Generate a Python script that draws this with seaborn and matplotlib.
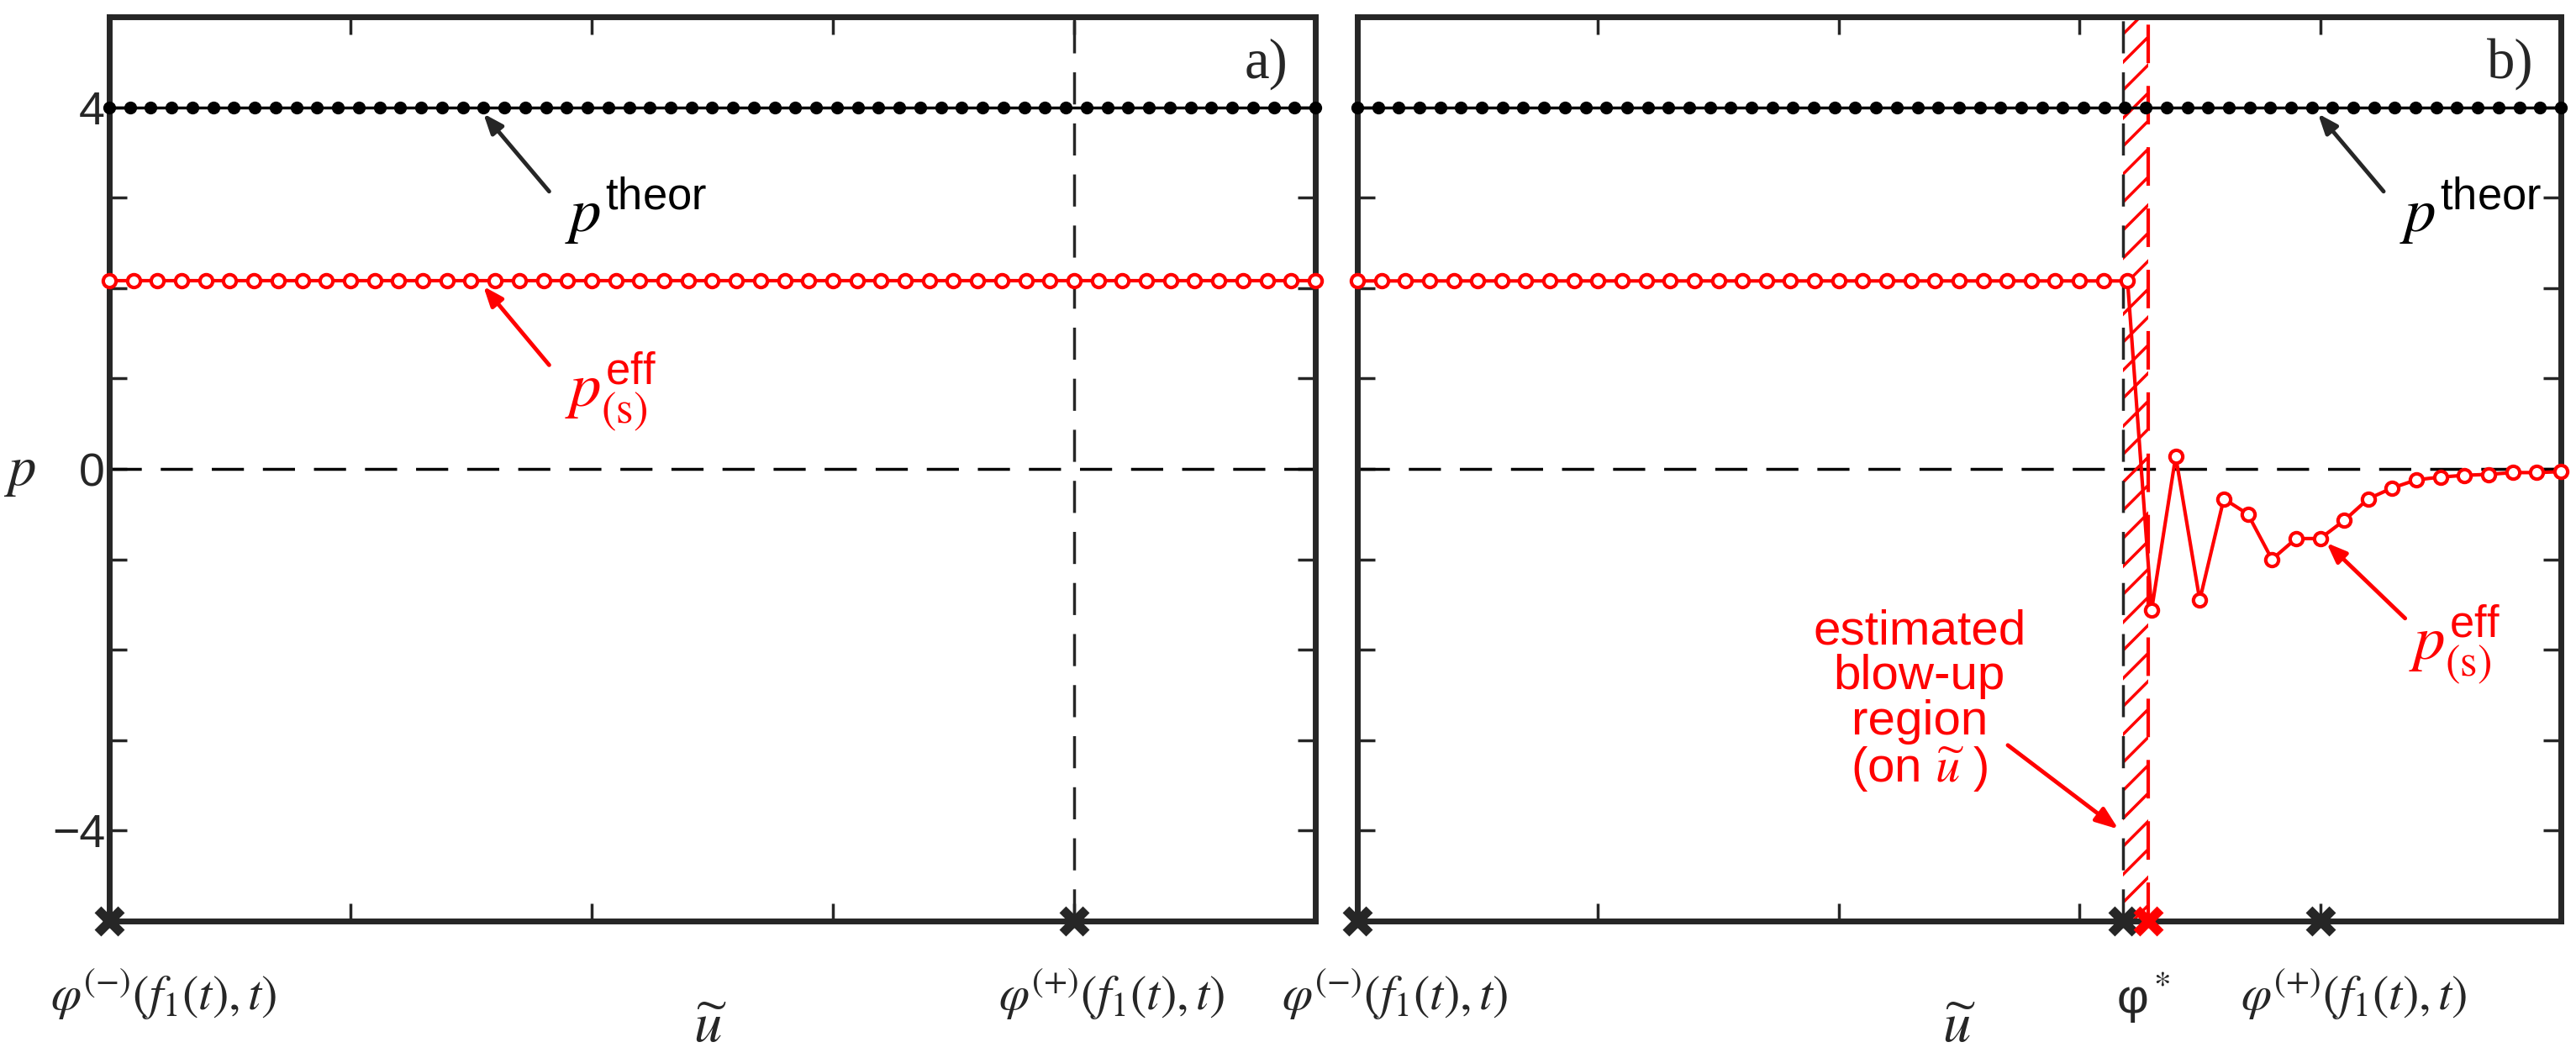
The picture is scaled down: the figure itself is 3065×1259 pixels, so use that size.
import numpy as np
import pandas as pd
import matplotlib
matplotlib.use("Agg")
import matplotlib.pyplot as plt
import seaborn as sns

# ---------------- data ----------------
n_theor = 59                      # points on p^theor curve
p_theor_value = 4.0
n_eff = 51                        # points on p_eff curve
p_eff_flat = 2.08
# panel b: values after the blow-up (indices 33..50)
p_eff_b_tail = [-1.56, 0.14, -1.45, -0.33, -0.50, -1.00, -0.77, -0.77, -0.57,
                -0.33, -0.21, -0.12, -0.09, -0.07, -0.06, -0.04, -0.04, -0.03]
phi_minus = 0.0
phi_plus_a = 0.80
phi_plus_b = 0.80
phi_star_black = 0.636
phi_star_red = 0.657
ytick_vals = [-4, -3, -2, -1, 0, 1, 2, 3, 4]
ytick_labels = ["\u22124", "", "", "", "0", "", "", "", "4"]
xtick_vals = [0.2, 0.4, 0.6, 0.8]

u_theor = np.linspace(0, 1, n_theor)
u_eff = np.linspace(0, 1, n_eff)
df_theor = pd.DataFrame({"u": u_theor, "p": np.full(n_theor, p_theor_value)})
df_eff_a = pd.DataFrame({"u": u_eff, "p": np.full(n_eff, p_eff_flat)})
p_b = [p_eff_flat] * (n_eff - len(p_eff_b_tail)) + p_eff_b_tail
df_eff_b = pd.DataFrame({"u": u_eff, "p": p_b})

# ---------------- style ----------------
sns.set_style("ticks")
plt.rcParams["font.family"] = ["Liberation Sans", "DejaVu Sans"]
plt.rcParams["mathtext.fontset"] = "custom"
plt.rcParams["mathtext.rm"] = "STIXGeneral"
plt.rcParams["mathtext.it"] = "STIXGeneral:italic"
plt.rcParams["mathtext.sf"] = "Liberation Sans"
plt.rcParams["mathtext.bf"] = "STIXGeneral:bold"
plt.rcParams["mathtext.fallback"] = "stix"
plt.rcParams["hatch.linewidth"] = 2.5

fig = plt.figure(figsize=(30.65, 12.59), dpi=100)
axA = fig.add_axes([0.0424, 0.1295, 0.4682, 0.8545])
axB = fig.add_axes([0.5269, 0.1295, 0.4672, 0.8545])

RED = "#ff0000"
DASH = (11, 6.5)
FS_TICK = 40
FS_LAB = 42


def base(ax):
    ax.set_xlim(0, 1)
    ax.set_ylim(-5, 5)
    for s in ax.spines.values():
        s.set_linewidth(5)
        s.set_color("#262626")
        s.set_visible(True)
    ax.tick_params(direction="in", length=15, width=2.5, top=True, right=True,
                   labelsize=FS_TICK, colors="#262626")
    ax.set_xticks(xtick_vals)
    ax.set_xticklabels([])
    ax.set_yticks(ytick_vals)
    ax.axhline(0, color="black", lw=2.5, dashes=DASH, zorder=1)
    sns.lineplot(data=df_theor, x="u", y="p", ax=ax, color="black", lw=2.5,
                 marker="o", markersize=11, markeredgewidth=0, clip_on=False, zorder=4)
    ax.set_xlabel("")
    ax.set_ylabel("")


ARROW = "-|>,head_length=1.4,head_width=0.55"

# ---- panel a ----
base(axA)
axA.set_yticklabels(ytick_labels)
axA.axvline(phi_plus_a, color="#262626", lw=2.5, dashes=DASH, zorder=1)
sns.lineplot(data=df_eff_a, x="u", y="p", ax=axA, color=RED, lw=3,
             marker="o", markersize=11, markerfacecolor="white",
             markeredgecolor=RED, markeredgewidth=3, clip_on=False, zorder=5)
axA.set_xlabel(""); axA.set_ylabel("")
for xm in [phi_minus, phi_plus_a]:
    axA.plot([xm], [-5], marker="x", color="#262626", ms=20, mew=8, clip_on=False, zorder=10)

axA.annotate("", xy=(0.309, 3.95), xytext=(0.366, 3.05),
             arrowprops=dict(arrowstyle=ARROW, color="#262626", lw=3.5))
axA.text(0.378, 2.85, r"$p^{\mathsf{theor}}$", fontsize=54, color="black", ha="left", va="center")
axA.annotate("", xy=(0.309, 2.04), xytext=(0.366, 1.13),
             arrowprops=dict(arrowstyle=ARROW, color=RED, lw=3.5))
axA.text(0.378, 0.85, r"$p^{\mathsf{eff}}_{\mathrm{(s)}}$", fontsize=54, color=RED, ha="left", va="center")
axA.text(0.977, 4.48, "a)", fontsize=48, family="Liberation Serif", ha="right", va="center")

# ---- panel b ----
base(axB)
axB.set_yticklabels([])
axB.axvspan(phi_star_black, phi_star_red, facecolor="none", edgecolor=RED, hatch="/", lw=0, zorder=2)
axB.axvline(phi_star_black, color="#262626", lw=2.5, dashes=DASH, zorder=3)
axB.axvline(phi_star_red, color=RED, lw=3, dashes=DASH, zorder=3)
sns.lineplot(data=df_eff_b, x="u", y="p", ax=axB, color=RED, lw=3,
             marker="o", markersize=11, markerfacecolor="white",
             markeredgecolor=RED, markeredgewidth=3, clip_on=False, zorder=5)
axB.set_xlabel(""); axB.set_ylabel("")
for xm in [phi_minus, phi_star_black, phi_plus_b]:
    axB.plot([xm], [-5], marker="x", color="#262626", ms=20, mew=8, clip_on=False, zorder=10)
axB.plot([phi_star_red], [-5], marker="x", color=RED, ms=20, mew=8, clip_on=False, zorder=10)

axB.annotate("", xy=(0.797, 3.95), xytext=(0.854, 3.05),
             arrowprops=dict(arrowstyle=ARROW, color="#262626", lw=3.5))
axB.text(0.866, 2.85, r"$p^{\mathsf{theor}}$", fontsize=54, color="black", ha="left", va="center")
axB.annotate("", xy=(0.804, -0.80), xytext=(0.872, -1.67),
             arrowprops=dict(arrowstyle=ARROW, color=RED, lw=3.5))
axB.text(0.874, -1.95, r"$p^{\mathsf{eff}}_{\mathrm{(s)}}$", fontsize=54, color=RED, ha="left", va="center")
axB.text(0.977, 4.48, "b)", fontsize=48, family="Liberation Serif", ha="right", va="center")
axB.text(0.467, -2.57, "estimated\nblow-up\nregion\n(on $\\widetilde{u}$ )", fontsize=42,
         color=RED, ha="center", va="center", linespacing=1.0)
axB.annotate("", xy=(0.634, -4.0), xytext=(0.539, -3.04),
             arrowprops=dict(arrowstyle="-|>,head_length=1.6,head_width=0.6", color=RED, lw=3.5))

# ---- x-axis labels ----
def xlabels(ax, items):
    for x, y, s, fs in items:
        ax.text(x, y, s, transform=ax.transAxes, fontsize=fs, ha="center", va="center",
                color="#262626")

xlabels(axA, [(0.045, -0.081, r"$\varphi^{(-)}(f_1(t),t)$", FS_LAB),
              (0.498, -0.118, r"$\widetilde{u}$", 48),
              (0.831, -0.081, r"$\varphi^{(+)}(f_1(t),t)$", FS_LAB)])
xlabels(axB, [(0.031, -0.081, r"$\varphi^{(-)}(f_1(t),t)$", FS_LAB),
              (0.500, -0.118, r"$\widetilde{u}$", 48),
              (0.653, -0.085, "φ$^*$", FS_LAB),
              (0.828, -0.081, r"$\varphi^{(+)}(f_1(t),t)$", FS_LAB)])

fig.text(0.0075, 0.5535, r"$p$", fontsize=48, ha="center", va="center")

fig.savefig("out.png", dpi=100)
